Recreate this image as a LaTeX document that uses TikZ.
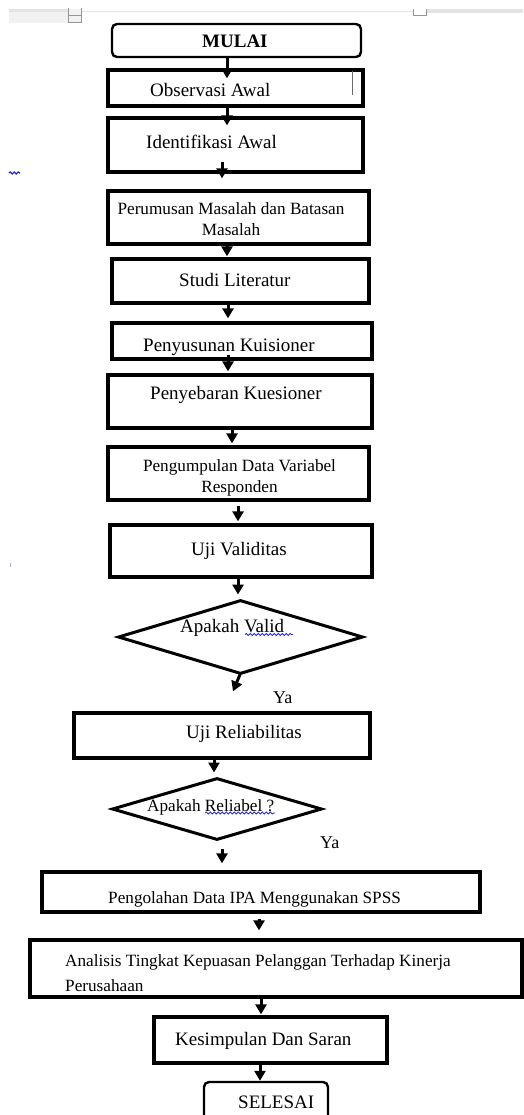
\documentclass[tikz,border=0pt]{standalone}
\usepackage{fontspec}
\setmainfont{Liberation Serif}
\usetikzlibrary{shapes.geometric,arrows.meta,calc,decorations.pathmorphing}
\definecolor{rulergrey}{RGB}{228,228,228}
\definecolor{markgrey}{RGB}{150,150,150}
\definecolor{spellblue}{RGB}{40,40,235}
\tikzset{
  box/.style={draw, line width=3.3pt, rectangle, inner sep=0pt},
  term/.style={draw, line width=2.4pt, rectangle, rounded corners=5pt, inner sep=0pt},
  decis/.style={draw, line width=3pt, diamond, inner sep=0pt},
  txt/.style={anchor=base west, inner sep=0pt, font=\fontsize{19}{22}\selectfont},
  stxt/.style={anchor=base west, inner sep=0pt, font=\fontsize{17.2}{21}\selectfont},
  arr/.style={line width=3pt, -{Triangle[length=10pt,width=11pt]}},
  spell/.style={spellblue, line width=0.8pt, decorate, decoration={snake, amplitude=1pt, segment length=4pt}}
}
\begin{document}
\begin{tikzpicture}[x=1pt,y=-1pt]
\useasboundingbox (0,0) rectangle (523,1115);
\fill[white] (0,0) rectangle (523,1115);
% word page artefacts at the top
\fill[rulergrey!50] (9,9) rectangle (82,23);
\fill[rulergrey] (9,9) rectangle (68,12.5);
\fill[rulergrey] (427,9) rectangle (523,13);
\draw[rulergrey, line width=0.8pt] (82,11.5) -- (413,11.5);
\draw[markgrey, line width=0.8pt] (68.5,8) -- (68.5,22) -- (81.5,22) -- (81.5,8);
\draw[markgrey, line width=0.8pt] (68.5,15) -- (81.5,15);
\draw[markgrey, line width=0.8pt] (413,9) -- (413,15) -- (426.5,15) -- (426.5,9);
\draw[spell, line width=1.2pt] (9,173) -- (20,173);
\fill[spellblue!40] (9.5,563) rectangle (10.5,567);

% boxes
\node[term, minimum width=249pt, minimum height=33pt] (mulai) at (236.5,40.5) {};
\node[box, minimum width=255pt, minimum height=36pt] (obs) at (235.5,88) {};
\node[box, minimum width=255pt, minimum height=54pt] (ident) at (235.5,145) {};
\node[box, minimum width=261pt, minimum height=53pt] (perum) at (238.5,217.5) {};
\node[box, minimum width=257pt, minimum height=44pt] (studi) at (240.5,281) {};
\node[box, minimum width=260pt, minimum height=36pt] (penyus) at (242,341) {};
\node[box, minimum width=264pt, minimum height=53pt] (penyeb) at (240,401.5) {};
\node[box, minimum width=261pt, minimum height=53pt] (pengump) at (238.5,473.5) {};
\node[box, minimum width=262pt, minimum height=52pt] (ujival) at (241,551) {};
\node[decis, minimum width=245pt, minimum height=74pt] (dvalid) at (240.5,637) {};
\node[box, minimum width=296pt, minimum height=45pt] (ujirel) at (222,735.5) {};
\node[decis, minimum width=210pt, minimum height=62pt] (drel) at (217,809) {};
\node[box, minimum width=438pt, minimum height=40pt] (pengol) at (261,892) {};
\node[box, minimum width=492pt, minimum height=57pt] (analis) at (276,968.5) {};
\node[box, minimum width=233pt, minimum height=46pt] (kesimp) at (270.5,1040) {};
\node[term, minimum width=124pt, minimum height=50pt] (selesai) at (266,1107) {};

% cursor mark
\draw[markgrey!70!black, line width=0.9pt] (352,71) -- (352,95);

% texts
\node[txt, font=\fontsize{19}{22}\selectfont\bfseries] (tmulai) at (202,48) {MULAI};
\node[txt] (tobs) at (150,97) {Observasi Awal};
\node[txt] (tident) at (146,149) {Identifikasi Awal};
\node[anchor=base, inner sep=0pt, align=center, font=\fontsize{17.2}{21}\selectfont] (tperum) at (231,236) {Perumusan Masalah dan Batasan\\Masalah};
\node[txt] (tstudi) at (179,286) {Studi Literatur};
\node[txt] (tpenyus) at (143,351) {Penyusunan Kuisioner};
\node[txt] (tpenyeb) at (150,399) {Penyebaran Kuesioner};
\node[anchor=base, inner sep=0pt, align=center, font=\fontsize{17.2}{21}\selectfont] (tpengump) at (239.5,492) {Pengumpulan Data Variabel\\Responden};
\node[txt] (tujival) at (191,555) {Uji Validitas};
\node[txt] (tdvalid) at (180,632) {Apakah Valid};
\node[txt, font=\fontsize{18}{22}\selectfont] (ya1) at (273,703) {Ya};
\node[txt] (tujirel) at (186,738) {Uji Reliabilitas};
\node[stxt] (tdrel) at (147,811) {Apakah Reliabel ?};
\node[txt, font=\fontsize{18}{22}\selectfont] (ya2) at (320,848) {Ya};
\node[stxt] (tpengol) at (108,903) {Pengolahan Data IPA Menggunakan SPSS};
\node[anchor=base west, inner sep=0pt, align=left, font=\fontsize{17.2}{25}\selectfont] (tanalis) at (65,991) {Analisis Tingkat Kepuasan Pelanggan Terhadap Kinerja\\Perusahaan};
\node[txt] (tkesimp) at (175,1045) {Kesimpulan Dan Saran};
\node[txt] (tselesai) at (238,1108) {SELESAI};

% spell-check underlines
\draw[spell] (245,634.5) -- (293,634.5);
\draw[spell] (205,813) -- (275,813);

% connectors
\draw[arr] ($(mulai.south)+(-9.5,0)$) -- ($(obs.north)+(-8.5,10)$);
\draw[arr] ($(obs.south)+(-8.5,0)$) -- ($(ident.north)+(-8.5,9)$);
\draw[arr] ($(ident.south)+(-13.5,-12)$) -- ($(perum.north)+(-16.5,-11)$);
\draw[arr] ($(perum.south)+(-11.5,-4)$) -- ($(studi.north)+(-13.5,-1)$);
\draw[arr] ($(studi.south)+(-12.5,0)$) -- ($(penyus.north)+(-14,-3)$);
\draw[arr] ($(penyus.south)+(-14,-6)$) -- ($(penyeb.north)+(-12,-2)$);
\draw[arr] ($(penyeb.south)+(-8,0)$) -- ($(pengump.north)+(-6.5,-2)$);
\draw[arr] ($(pengump.south)+(-0.5,4)$) -- ($(ujival.north)+(-3,-2)$);
\draw[arr] ($(ujival.south)+(-3,0)$) -- ($(dvalid.north)+(-2.5,-4)$);
\draw[arr] ($(dvalid.south)+(-0.5,-1)$) -- ($(ujirel.north)+(11,-20)$);
\draw[arr] ($(ujirel.south)+(-8,0)$) -- ($(drel.north)+(-3,-4)$);
\draw[arr] ($(drel.south)+(5,7)$) -- ($(pengol.north)+(-39,-7)$);
\draw[arr] ($(pengol.south)+(-2,5)$) -- ($(analis.north)+(-17,-8)$);
\draw[arr] ($(analis.south)+(-15,0)$) -- ($(kesimp.north)+(-9.5,-1)$);
\draw[arr] ($(kesimp.south)+(-10.5,0)$) -- ($(selesai.north)+(-6,0)$);
\end{tikzpicture}
\end{document}
